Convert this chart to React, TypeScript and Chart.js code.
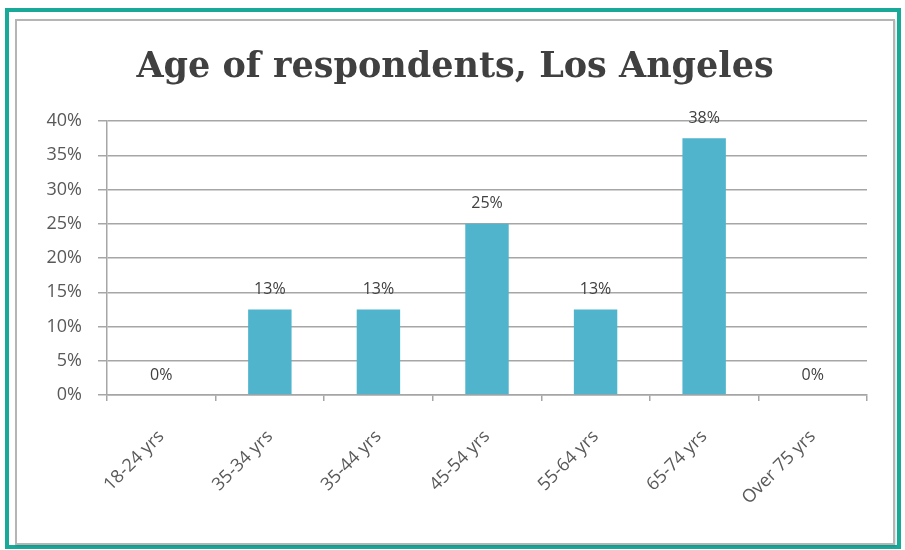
import React, { useEffect, useRef } from "react";
import { Chart, registerables } from "chart.js";

Chart.register(...registerables);

const categories = ["18-24 yrs", "35-34 yrs", "35-44 yrs", "45-54 yrs", "55-64 yrs", "65-74 yrs", "Over 75 yrs"];
const values = [0, 12.5, 12.5, 25, 12.5, 37.5, 0];
const valueLabels = ["0%", "13%", "13%", "25%", "13%", "38%", "0%"];
const titleText = "Age of respondents, Los Angeles";

const TICK_FONT = "'Open Sans', 'DejaVu Sans', sans-serif";

const dataLabelPlugin = {
  id: "dataLabels",
  afterDatasetsDraw(chart: any) {
    const ctx = chart.ctx;
    const meta = chart.getDatasetMeta(0);
    ctx.save();
    ctx.font = `16px ${TICK_FONT}`;
    ctx.fillStyle = "#404040";
    ctx.textAlign = "center";
    ctx.textBaseline = "middle";
    meta.data.forEach((bar: any, i: number) => {
      ctx.fillText(valueLabels[i], bar.x, bar.y - 20);
    });
    ctx.restore();
  },
};

export default function App() {
  const ref = useRef<HTMLCanvasElement | null>(null);

  useEffect(() => {
    document.body.style.margin = "0";
    const canvas = ref.current;
    if (!canvas) return;
    const chart = new Chart(canvas, {
      type: "bar",
      data: {
        labels: categories,
        datasets: [
          {
            data: values,
            backgroundColor: "#4fb4cc",
            borderWidth: 0,
            barPercentage: 0.4,
            categoryPercentage: 1,
          },
        ],
      },
      options: {
        animation: false,
        responsive: false,
        maintainAspectRatio: false,
        layout: { padding: { top: 0, right: 26, bottom: 0, left: 26 } },
        plugins: {
          legend: { display: false },
          tooltip: { enabled: false },
          title: {
            display: true,
            text: titleText,
            color: "#404040",
            font: { family: "'DejaVu Serif', serif", size: 35, weight: "bold" },
            padding: { top: 26, bottom: 32 },
          },
        },
        scales: {
          x: {
            offset: true,
            grid: {
              offset: true,
              drawOnChartArea: false,
              drawTicks: true,
              tickLength: 6,
              color: "#a6a6a6",
              lineWidth: 1.5,
            },
            border: { display: true, color: "#a6a6a6", width: 1.5 },
            ticks: {
              minRotation: 45,
              maxRotation: 45,
              padding: 25,
              color: "#595959",
              font: { family: TICK_FONT, size: 18 },
            },
            afterFit(scale: any) {
              scale.height = 148;
            },
          },
          y: {
            min: 0,
            max: 40,
            grid: {
              color: "#a6a6a6",
              lineWidth: 1.5,
              drawTicks: true,
              tickLength: 9,
            },
            border: { display: true, color: "#a6a6a6", width: 1.5 },
            ticks: {
              stepSize: 5,
              padding: 16,
              color: "#595959",
              font: { family: TICK_FONT, size: 18 },
              callback: (v: any) => `${v}%`,
            },
            afterFit(scale: any) {
              scale.width = 64;
            },
          },
        },
      },
      plugins: [dataLabelPlugin],
    });
    return () => chart.destroy();
  }, []);

  return (
    <div style={{ position: "relative", width: 905, height: 550, background: "#ffffff", overflow: "hidden" }}>
      <div
        style={{
          position: "absolute",
          left: 5,
          top: 8,
          width: 896,
          height: 541,
          boxSizing: "border-box",
          border: "4px solid #18a999",
        }}
      />
      <div
        style={{
          position: "absolute",
          left: 15,
          top: 19,
          width: 880,
          height: 526,
          boxSizing: "border-box",
          border: "2px solid #b5b5b5",
          boxShadow: "1px 1px 2px rgba(0,0,0,0.15)",
        }}
      />
      <canvas
        ref={ref}
        width={876}
        height={522}
        style={{ position: "absolute", left: 17, top: 21, width: 876, height: 522 }}
      />
    </div>
  );
}
